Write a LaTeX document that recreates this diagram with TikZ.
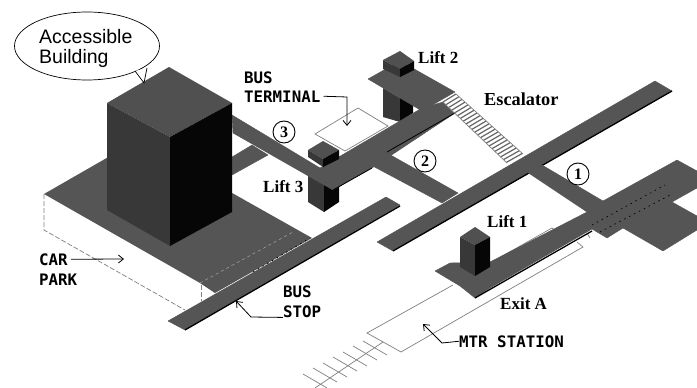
\documentclass[tikz,border=0pt]{standalone}
\usepackage{fontspec}
\setmainfont{Liberation Serif}
\newfontfamily\helv{Liberation Sans}
\newfontfamily\monob{DejaVu Sans Mono}
\usetikzlibrary{arrows.meta,calc}
\definecolor{walk}{HTML}{555555}
\definecolor{topf}{HTML}{505050}
\definecolor{leftf}{HTML}{383838}
\definecolor{rightf}{HTML}{060606}
\definecolor{thin}{HTML}{808080}
\tikzset{
  walkway/.style={fill=walk,draw=walk,line width=0.4pt,line join=round},
  topface/.style={fill=topf,draw=none},
  leftface/.style={fill=leftf,draw=none},
  rightface/.style={fill=rightf,draw=none},
  edgeblack/.style={draw=black,line width=1.3pt},
  outline/.style={draw=thin,line width=0.7pt},
  dashline/.style={draw=thin,line width=0.7pt,dash pattern=on 5pt off 2pt},
  lightdots/.style={draw=gray!70,line width=0.5pt,dash pattern=on 3pt off 3pt},
  darkdots/.style={draw=black,line width=0.7pt,dash pattern=on 1.5pt off 4pt},
  monolab/.style={font=\monob\bfseries\fontsize{15.8}{18}\selectfont,anchor=base west,inner sep=0pt},
  seriflab/.style={font=\bfseries\fontsize{17}{20}\selectfont,anchor=base west,inner sep=0pt},
  calloutlab/.style={font=\helv\fontsize{19.5}{21}\selectfont,anchor=base west,inner sep=0pt},
  numcirc/.style={circle,draw=black,line width=0.9pt,minimum size=22pt,inner sep=0pt,fill=white,font=\bfseries\fontsize{16}{18}\selectfont},
  callarrow/.style={draw=black,line width=0.8pt,-{Straight Barb[length=5pt,width=8pt]}},
}
\begin{document}
\begin{tikzpicture}[x=1pt,y=-1pt]
\useasboundingbox[fill=white] (0,0) rectangle (697,388);

% MTR station outline and tracks
\draw[outline] (453,285) -- (367,333) -- (401,352) -- (583,247) -- (577,242);
\draw[outline] (490,263) -- (552,228) -- (556,231) -- (490,268);
\draw[outline] (587,233) -- (590,238);
\draw[outline] (383,342) -- (315,388);
\foreach \px/\py in {363/341,353/346,343/352,333/357,323/363,313/368,303/374}{
  \draw[outline] (\px,\py) -- ++(24,14);
}

% Bus terminal
\draw[outline] (315,134) -- (358,108) -- (388,126) -- (345,151) -- cycle;

% Car park
\draw[dashline] (44,194) -- (44,230) -- (185,310);
\draw[dashline] (201,285) -- (201,301);
\fill[walk] (44,194) -- (138,140) -- (312,238) -- (215,293) -- (200,283) -- cycle;
\draw[lightdots] (200,283) -- (293,232);
\draw[walkway] (168,321) -- (386,197) -- (400,205) -- (185,330) -- cycle;
\draw[darkdots] (253,272) -- (310,238);
\draw[edgeblack] (185,330) -- (400,206);

% Walkway 3 and its branch
\draw[walkway] (252,145) -- (232,157) -- (232,175) -- (268,155) -- cycle;

% Lift 3 column
\fill[leftface] (308,170) -- (324,180) -- (324,212) -- (308,202) -- cycle;
\fill[rightface] (324,180) -- (339,170) -- (339,202) -- (324,212) -- cycle;

% Lift 2 column
\fill[leftface] (383,88) -- (400,98) -- (400,122) -- (383,117) -- cycle;
\fill[rightface] (400,98) -- (413,90) -- (413,113) -- (400,122) -- cycle;

% Walkways
\draw[walkway] (232,115) -- (320,168) -- (422,108) -- (443,102) -- (455,113) -- (372,168) -- (333,190) -- (233,133) -- cycle;
\draw[walkway] (367,163) -- (387,153) -- (458,193) -- (442,203) -- cycle;
\draw[edgeblack,line width=0.8pt] (333,190) -- (372,168);
\draw[edgeblack,line width=0.8pt] (387,152) -- (455,113);

% Lift 3 head
\fill[topface] (308,150) -- (323,141) -- (339,150) -- (323,159) -- cycle;
\fill[leftface] (308,150) -- (323,159) -- (323,167) -- (308,157) -- cycle;
\fill[rightface] (323,159) -- (339,150) -- (339,159) -- (323,167) -- cycle;

% Lift 2 platform and head
\draw[walkway] (368,79) -- (400,61) -- (455,92) -- (422,111) -- cycle;
\fill[topface] (383,60) -- (400,51) -- (414,61) -- (400,69) -- cycle;
\fill[leftface] (383,60) -- (400,69) -- (400,77) -- (383,69) -- cycle;
\fill[rightface] (400,69) -- (414,61) -- (414,70) -- (400,77) -- cycle;

% Escalator
\fill[white] (443,102) -- (456,94) -- (523,154) -- (507,163) -- cycle;
\foreach \t in {0,0.045,...,1.01}{
  \draw[draw=gray!80!black,line width=1.2pt]
    ($(443,102)!\t!(507,163)$) -- ($(456,94)!\t!(523,154)$);
}
\draw[outline] (443,102) -- (507,163);
\draw[outline] (456,94) -- (523,154);
\draw[walkway] (377,242) -- (655,81) -- (672,91) -- (393,251) -- cycle;
\draw[edgeblack] (393,251) -- (672,91);
\draw[walkway] (542,165) -- (603,201) -- (587,212) -- (527,172) -- cycle;

% Lift 1 platform and right-hand walkway
\draw[walkway] (435,271) -- (450,263) -- (490,262) -- (587,212) -- (603,201) -- (677,160)
  -- (697,171) -- (697,188) -- (672,202) -- (697,216) -- (697,230) -- (663,251)
  -- (623,228) -- (607,238) -- (592,229)
  -- (490,288) -- (475,298) -- (460,286) -- cycle;
\draw[edgeblack] (475,298) -- (592,231);
\draw[darkdots] (592,225) -- (665,185);
\draw[darkdots] (600,232) -- (672,194);

% Lift 1
\fill[topface] (460,237) -- (475,227) -- (490,237) -- (475,245) -- cycle;
\fill[leftface] (460,237) -- (475,245) -- (475,276) -- (460,267) -- cycle;
\fill[rightface] (475,245) -- (490,237) -- (490,267) -- (475,276) -- cycle;

% Building
\fill[topface] (107,103) -- (169,67) -- (232,103) -- (170,137) -- cycle;
\fill[leftface] (107,103) -- (170,137) -- (170,246) -- (107,210) -- cycle;
\fill[rightface] (170,137) -- (232,103) -- (232,212) -- (170,246) -- cycle;

% Callout
\draw[black,line width=0.7pt] (87,46) ellipse [x radius=72.5,y radius=34];
\fill[white] (135,71) -- (147,68) -- (144,83) -- cycle;
\draw[black,line width=0.7pt] (135,71) -- (144,83) -- (147,68);
\node[calloutlab] (access) at (39,43) {Accessible};
\node[calloutlab] (build) at (39,63) {Building};

% Numbers
\node[numcirc] (n3) at (284,132) {3};
\node[numcirc] (n2) at (425,161) {2};
\node[numcirc] (n1) at (578,174) {1};

% Labels
\node[monolab] (bus1) at (244,83) {BUS};
\node[monolab] (term) at (244,102) {TERMINAL};
\node[monolab] (car) at (39,265) {CAR};
\node[monolab] (park) at (39,285) {PARK};
\node[monolab] (bus2) at (283,297) {BUS};
\node[monolab] (stop) at (283,317) {STOP};
\node[monolab] (mtr) at (459,347) {MTR STATION};
\node[seriflab] (l3) at (263,192) {Lift 3};
\node[seriflab] (l2) at (418,63) {Lift 2};
\node[seriflab,font=\bfseries\fontsize{18.3}{20}\selectfont] (esc) at (484,105) {Escalator};
\node[seriflab] (l1) at (487,227) {Lift 1};
\node[seriflab] (exita) at (500,309) {Exit A};

% Pointers
\coordinate (tstart) at ($(term.east)+(3,0)$);
\coordinate (tbend) at (347,97);
\coordinate (ttip) at (347,126);
\coordinate (cstart) at ($(car.east)+(3,0)$);
\coordinate (ctip) at (124,259);
\coordinate (sbend) at (251,317);
\coordinate (stip) at (236,301);
\coordinate (mbend) at (442,343);
\coordinate (mtip) at (423,324);
\draw[callarrow] (tstart) -- (tbend) -- (ttip);
\draw[callarrow] (cstart) -- (ctip);
\draw[callarrow] (stop.south west) -- (sbend) -- (stip);
\draw[callarrow] (mtr.west) -- (mbend) -- (mtip);
\end{tikzpicture}
\end{document}
